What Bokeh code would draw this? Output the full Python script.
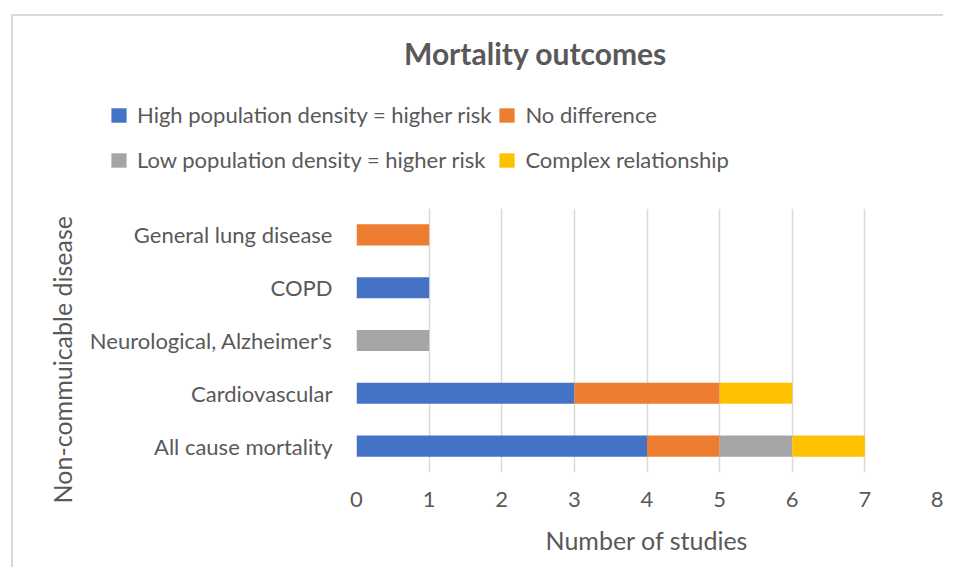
from bokeh.plotting import figure
from bokeh.models import Legend, LegendItem, Label, Range1d, FactorRange
from bokeh.embed import file_html
from bokeh.resources import INLINE

categories = ["All cause mortality", "Cardiovascular", "Neurological, Alzheimer's",
              "COPD", "General lung disease"]
high_density = [4, 3, 0, 1, 0]
no_difference = [1, 2, 0, 0, 1]
low_density = [1, 0, 1, 0, 0]
complex_rel = [1, 1, 0, 0, 0]

series = ["High population density = higher risk", "No difference",
          "Low population density = higher risk", "Complex relationship"]
keys = ["high", "nodiff", "low", "complex"]
colors = ["#4472C4", "#ED7D31", "#A5A5A5", "#FFC000"]
x_ticks = [0, 1, 2, 3, 4, 5, 6, 7, 8]

FONT = "Lato"
TXT = "#595959"
BORDER = "#D9D9D9"

data = dict(cat=categories, high=high_density, nodiff=no_difference,
            low=low_density, complex=complex_rel)

W = 943
TOP_H = 178          # header (title + legend) height
MAIN_H = 389         # plot area height
FL, FR = 356, 937    # frame left/right
FRAME_TOP = 30       # frame top inside the main figure (page y = 208)
FRAME_H = 264

# ---------- header: title + legend (separate root, no frame alignment) ----------
head = figure(width=W, height=TOP_H, x_range=Range1d(0, 8),
              y_range=FactorRange(*categories),
              output_backend="svg", toolbar_location=None,
              x_axis_location=None, y_axis_location=None,
              min_border=0, min_border_left=0, min_border_right=0,
              min_border_top=0, min_border_bottom=0)
head.grid.visible = False
head.outline_line_color = None
head.background_fill_alpha = 0
head.border_fill_alpha = 0
head.styles = {
    "background-image": f"linear-gradient({BORDER}, {BORDER}), linear-gradient({BORDER}, {BORDER})",
    "background-size": "100% 2px, 2px 100%",
    "background-position": "11px 14px, 11px 14px",
    "background-repeat": "no-repeat",
}

# legend renderers (hidden: only their legend swatches are shown)
head_r = head.hbar_stack(keys, y="cat", height=0.4, color=colors, source=data,
                         line_color=None)
for r in head_r:
    r.visible = False


def make_legend(idx, vy, spacing, standoff):
    lg = Legend(items=[LegendItem(label=series[i], renderers=[head_r[i]]) for i in idx],
                location=(109, vy), orientation="horizontal")
    lg.border_line_color = None
    lg.background_fill_alpha = 0
    lg.inactive_fill_alpha = 0
    lg.padding = 0
    lg.margin = 0
    lg.spacing = spacing
    lg.glyph_width = 19
    lg.glyph_height = 18
    lg.label_height = 18
    lg.label_standoff = standoff
    lg.label_text_font = FONT
    lg.label_text_font_size = "22px"
    lg.label_text_color = TXT
    lg.label_text_baseline = "middle"
    return lg


head.add_layout(make_legend([0, 1], TOP_H - 128, 6, 9), "center")
head.add_layout(make_legend([2, 3], TOP_H - 173, 12, 9), "center")

title = Label(x=535, y=TOP_H - 65 + 13, x_units="screen", y_units="screen",
              text="Mortality outcomes", text_align="center", text_baseline="alphabetic",
              text_font=FONT, text_font_size="30px", text_font_style="bold",
              text_color=TXT)
head.add_layout(title)

# ---------- main bar chart ----------
p = figure(width=W, height=MAIN_H, y_range=FactorRange(*categories),
           x_range=Range1d(0, 8), output_backend="svg", toolbar_location=None,
           min_border_left=FL, min_border_right=W - FR,
           min_border_top=FRAME_TOP, min_border_bottom=MAIN_H - FRAME_TOP - FRAME_H)
p.background_fill_color = "white"
p.border_fill_alpha = 0
p.outline_line_color = None
p.styles = {
    "background-image": f"linear-gradient({BORDER}, {BORDER})",
    "background-size": "2px 100%",
    "background-position": "11px 0px",
    "background-repeat": "no-repeat",
}

p.hbar_stack(keys, y="cat", height=0.4, color=colors, source=data, line_color=None)

p.xaxis.ticker = x_ticks
p.xaxis.axis_line_color = None
p.xaxis.major_tick_line_color = None
p.xaxis.minor_tick_line_color = None
p.xaxis.major_label_text_font = FONT
p.xaxis.major_label_text_font_size = "22px"
p.xaxis.major_label_text_color = TXT
p.xaxis.major_label_standoff = 13
p.xaxis.axis_label = "Number of studies"
p.xaxis.axis_label_text_font = FONT
p.xaxis.axis_label_text_font_size = "25px"
p.xaxis.axis_label_text_font_style = "normal"
p.xaxis.axis_label_text_color = TXT
p.xaxis.axis_label_standoff = 15

p.yaxis.axis_line_color = None
p.yaxis.major_tick_line_color = None
p.yaxis.minor_tick_line_color = None
p.yaxis.major_label_text_font = FONT
p.yaxis.major_label_text_font_size = "22px"
p.yaxis.major_label_text_color = TXT
p.yaxis.major_label_standoff = 18
# trailing no-break spaces shift the centred label down, as in the reference
p.yaxis.axis_label = "Non-commuicable disease" + "\u00a0" * 6
p.yaxis.axis_label_text_font = FONT
p.yaxis.axis_label_text_font_size = "25px"
p.yaxis.axis_label_text_font_style = "normal"
p.yaxis.axis_label_text_color = TXT
p.yaxis.axis_label_standoff = 10

p.ygrid.grid_line_color = None
p.xgrid.grid_line_color = BORDER
p.xgrid.grid_line_width = 1.5

open("out.html", "w").write(file_html([head, p], INLINE))
